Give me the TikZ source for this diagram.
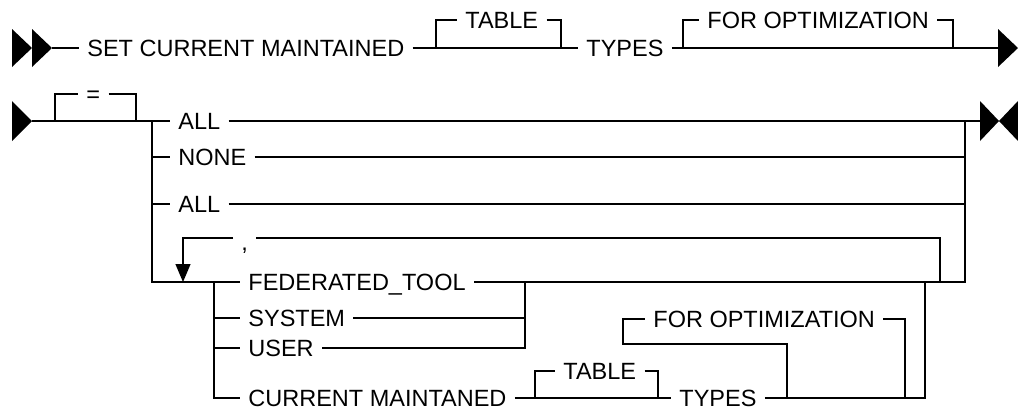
\documentclass[tikz,border=0pt]{standalone}
\usepackage{fontspec}
\setmainfont{Liberation Sans}
\usetikzlibrary{arrows.meta, calc}

\begin{document}
\begin{tikzpicture}[
  x=0.5pt, y=-0.5pt,
  kw/.style={font=\fontsize{11.75}{14}\selectfont, anchor=west,
             inner xsep=4pt, inner ysep=0pt, text height=8.4pt, text depth=0pt},
  rail/.style={draw=black, line width=0.6pt},
  tip/.style={fill=black},
  loopback/.style={rail, -{Triangle[width=7.5pt,length=9pt]}}
]
  \useasboundingbox (0,0) rectangle (1018,409);

  % first line
  \fill[tip] (12,29) -- (32,48) -- (12,67) -- cycle;
  \fill[tip] (32,29) -- (52,48) -- (32,67) -- cycle;
  \coordinate (r1s) at (52,48);
  \coordinate (b1a) at (436,48);
  \coordinate (b1b) at (561,48);
  \coordinate (b2a) at (683,48);
  \coordinate (b2b) at (953,48);
  \coordinate (r1e) at (998,48);
  \node[kw] (set)  at (79,48)  {SET CURRENT MAINTAINED};
  \node[kw] (tbl1) at (457,20) {TABLE};
  \node[kw] (typ1) at (578,48) {TYPES};
  \node[kw] (opt1) at (699,20) {FOR OPTIMIZATION};
  \draw[rail] (r1s) -- (set.west);
  \draw[rail] (set.east) -- (b1a) |- (tbl1.west);
  \draw[rail] (tbl1.east) -| (b1b);
  \draw[rail] (b1a) -- (b1b) -- (typ1.west);
  \draw[rail] (typ1.east) -- (b2a) |- (opt1.west);
  \draw[rail] (opt1.east) -| (b2b);
  \draw[rail] (b2a) -- (b2b) -- (r1e);
  \fill[tip] (998,29) -- (1018,48) -- (998,67) -- cycle;

  % second line
  \fill[tip] (12,101) -- (32,121) -- (12,141) -- cycle;
  \coordinate (r2s) at (32,121);
  \coordinate (e1)  at (55,121);
  \coordinate (e2)  at (136,121);
  \coordinate (c1)  at (152,121);
  \coordinate (c9)  at (965,121);
  \coordinate (r2e) at (980,121);
  \node[kw] (eq)   at (78,94)   {=\hspace{3.5pt}};
  \node[kw] (all1) at (170,121) {ALL\hspace{2.5pt}};
  \node[kw] (none) at (170,157) {NONE\hspace{7pt}};
  \node[kw] (all2) at (170,204) {ALL\hspace{5pt}};
  \draw[rail] (r2s) -- (e1) |- (eq.west);
  \draw[rail] (eq.east) -| (e2);
  \draw[rail] (e1) -- (e2) -- (c1) -- (all1.west);
  \draw[rail] (all1.east) -- (c9) -- (r2e);
  \fill[tip] (980,101) -- (999,121) -- (980,141) -- cycle;
  \fill[tip] (1018,101) -- (999,121) -- (1018,141) -- cycle;
  \draw[rail] (c1) |- (none.west);
  \draw[rail] (c1) |- (all2.west);
  \draw[rail] (none.east) -| (c9);
  \draw[rail] (all2.east) -| (c9);

  % repeated group
  \coordinate (lp0) at (183,282);
  \coordinate (lp9) at (940,282);
  \coordinate (c3)  at (214,282);
  \coordinate (c5)  at (525,282);
  \coordinate (c7)  at (925,282);
  \node[kw, text height=12pt] (comma) at (233,238) {,};
  \node[kw] (fed) at (240,282) {FEDERATED\_TOOL\hspace{9.5pt}};
  \node[kw] (sys) at (240,318) {SYSTEM\hspace{8.5pt}};
  \node[kw] (usr) at (240,348) {USER\hspace{11pt}};
  \node[kw] (cur) at (240,398) {CURRENT MAINTANED\hspace{4.5pt}};
  \draw[rail] (c1) |- (fed.west);
  \draw[rail] (fed.east) -| (c9);
  \draw[rail] (lp9) |- (comma.east);
  \draw[loopback] (comma.west) -| (lp0);
  \draw[rail] (c3) |- (sys.west);
  \draw[rail] (c3) |- (usr.west);
  \draw[rail] (c3) |- (cur.west);
  \draw[rail] (sys.east) -| (c5);
  \draw[rail] (usr.east) -| (c5);

  % current maintained types
  \coordinate (t1) at (535,398);
  \coordinate (t2) at (658,398);
  \coordinate (o1) at (787,398);
  \coordinate (o2) at (905,398);
  \coordinate (oa) at (623,344);
  \node[kw] (tbl2) at (555,371) {TABLE};
  \node[kw] (typ2) at (671,398) {TYPES\hspace{2pt}};
  \node[kw] (opt2) at (645,319) {FOR OPTIMIZATION\hspace{2pt}};
  \draw[rail] (cur.east) -- (t1) |- (tbl2.west);
  \draw[rail] (tbl2.east) -| (t2);
  \draw[rail] (t1) -- (t2) -- (typ2.west);
  \draw[rail] (typ2.east) -| (c7);
  \draw[rail] (o1) |- (oa) |- (opt2.west);
  \draw[rail] (opt2.east) -| (o2);
\end{tikzpicture}
\end{document}
